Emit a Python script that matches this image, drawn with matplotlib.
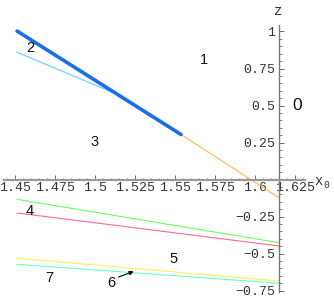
import numpy as np
import matplotlib
matplotlib.use("Agg")
import matplotlib.pyplot as plt

# 축/눈금 글꼴 (Mathematica 스타일: Courier 계열)
plt.rcParams["font.family"] = "monospace"
plt.rcParams["font.monospace"] = ["Liberation Mono", "DejaVu Sans Mono"]


# 데이터
x_left = [1.4513, 1.615]

thick_x = [1.4513, 1.5538]
thick_z = [1.003, 0.304]

orange_x = [1.5538, 1.615]
orange_z = [0.304, -0.123]

cyan_x = [1.4513, 1.514]
cyan_z = [0.86, 0.575]

green_z = [-0.134, -0.427]
pink_z = [-0.226, -0.449]
yellow_z = [-0.532, -0.686]
aqua_z = [-0.573, -0.701]

region_labels = ["0", "1", "2", "3", "4", "5", "6", "7"]
region_pos = [
    (1.6262, 0.50),
    (1.5681, 0.807),
    (1.4594, 0.888),
    (1.5000, 0.253),
    (1.4594, -0.213),
    (1.5488, -0.537),
    (1.5100, -0.699),
    (1.4713, -0.666),
]

x_ticks = [1.45, 1.475, 1.5, 1.525, 1.55, 1.575, 1.6, 1.625]
x_tick_labels = ["1.45", "1.475", "1.5", "1.525", "1.55", "1.575", "1.6", "1.625"]
z_ticks = [-0.75, -0.5, -0.25, 0.25, 0.5, 0.75, 1]
z_tick_labels = ["\u22120.75", "\u22120.5", "\u22120.25", "0.25", "0.5", "0.75", "1"]


fig = plt.figure(figsize=(3.34, 3.0), dpi=100)
ax = fig.add_axes([0, 0, 1, 1])

ax.set_xlim(1.4406, 1.6494)
ax.set_ylim(-0.814, 1.2128)

# 선 그리기
ax.plot(cyan_x, cyan_z, color="#66ccff", lw=0.8)
ax.plot(orange_x, orange_z, color="#ffb84d", lw=0.8)
ax.plot(thick_x, thick_z, color="#1a6fe8", lw=2.6, solid_capstyle="round")
ax.plot(x_left, green_z, color="#66ff66", lw=0.8)
ax.plot(x_left, pink_z, color="#ff6699", lw=0.8)
ax.plot(x_left, yellow_z, color="#ffee55", lw=0.8)
ax.plot(x_left, aqua_z, color="#66ffcc", lw=0.8)

# 영역 번호
for lab, (px, pz) in zip(region_labels, region_pos):
    size = 12.5 if lab == "0" else 10.5
    ax.text(px, pz, lab, fontsize=size, family="Liberation Sans",
            ha="center", va="center", color="#111111")

# 6번 화살표
ax.annotate("", xy=(1.5258, -0.615), xytext=(1.5131, -0.665),
            arrowprops=dict(arrowstyle="-|>", color="black", lw=0.8,
                            mutation_scale=6))

# 축 (원점 x=1.615, z=0)
for s in ["top", "right"]:
    ax.spines[s].set_visible(False)
ax.spines["left"].set_position(("data", 1.615))
ax.spines["bottom"].set_position(("data", 0))
ax.spines["left"].set_bounds(-0.76, 1.044)
ax.spines["bottom"].set_bounds(1.4431, 1.6313)
ax.spines["left"].set_color("#777777")
ax.spines["bottom"].set_color("#999999")
ax.spines["left"].set_linewidth(1.0)
ax.spines["bottom"].set_linewidth(1.6)

ax.set_xticks(x_ticks)
ax.set_xticklabels(x_tick_labels)
ax.set_yticks(z_ticks)
ax.set_yticklabels(z_tick_labels)
ax.set_xticks(np.arange(1.445, 1.631, 0.005), minor=True)
ax.set_yticks(np.arange(-0.75, 1.01, 0.05), minor=True)

ax.tick_params(axis="both", which="major", direction="in", length=3.5,
               width=0.6, color="#555555", labelsize=9.5, labelcolor="#333333")
ax.tick_params(axis="both", which="minor", direction="in", length=1.8,
               width=0.5, color="#555555")
ax.tick_params(axis="x", which="major", pad=2)
ax.tick_params(axis="y", which="major", pad=3)

# 축 이름
ax.text(1.6145, 1.14, "z", fontsize=10, ha="center", va="center", color="#333333")
ax.text(1.6395, -0.01, "x", fontsize=10, ha="center", va="center", color="#333333")
ax.text(1.6448, -0.037, "0", fontsize=7, ha="center", va="center", color="#333333")

fig.savefig("out.png", dpi=100)
